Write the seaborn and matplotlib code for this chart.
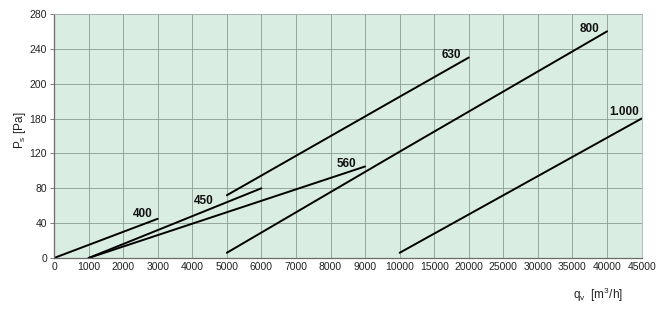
import numpy as np
import pandas as pd
import matplotlib
matplotlib.use("Agg")
import matplotlib.pyplot as plt
import seaborn as sns

# ---- data ----
q_400 = [0, 3000]
p_400 = [0, 45]
q_450 = [1000, 6000]
p_450 = [0, 80]
q_560 = [1000, 9000]
p_560 = [0, 105]
q_630 = [5000, 10000, 20000]
p_630 = [72, 185, 230]
q_800 = [5000, 10000, 40000]
p_800 = [6, 122, 260]
q_1000 = [10000, 45000]
p_1000 = [6, 160]

series_names = ["400", "450", "560", "630", "800", "1.000"]
x_ticks = [0, 1000, 2000, 3000, 4000, 5000, 6000, 7000, 8000, 9000, 10000,
           15000, 20000, 25000, 30000, 35000, 40000, 45000]
y_ticks = [0, 40, 80, 120, 160, 200, 240, 280]
y_tick_labels = ["0", "40", "80", "120", "180", "200", "240", "280"]

frames = []
for name, qs, ps in zip(series_names,
                        [q_400, q_450, q_560, q_630, q_800, q_1000],
                        [p_400, p_450, p_560, p_630, p_800, p_1000]):
    frames.append(pd.DataFrame({"q": qs, "p": ps, "size": name}))
df = pd.concat(frames, ignore_index=True)

sns.set_theme(style="white")
plt.rcParams["font.family"] = ["Liberation Sans", "DejaVu Sans"]

fig = plt.figure(figsize=(6.61, 3.09), dpi=100)
ax = fig.add_axes([0.0817, 0.165, 0.889, 0.790])


def fwd(q):
    q = np.asarray(q, dtype=float)
    return np.where(q <= 10000, q / 1000.0, 10 + (q - 10000) / 5000.0)


def inv(c):
    c = np.asarray(c, dtype=float)
    return np.where(c <= 10, c * 1000.0, 10000 + (c - 10) * 5000.0)


ax.set_xscale("function", functions=(fwd, inv))
ax.set_facecolor("#daede3")

for name in series_names:
    sub = df[df["size"] == name]
    sns.lineplot(data=sub, x="q", y="p", ax=ax, color="black", lw=1.4,
                 sort=False, legend=False)

ax.set_xlim(0, 45000)
ax.set_ylim(0, 280)
ax.set_xticks(x_ticks)
ax.set_xticklabels([str(t) for t in x_ticks], fontsize=7.5, color="#222222")
ax.set_yticks(y_ticks)
ax.set_yticklabels(y_tick_labels, fontsize=7.5, color="#222222")
ax.grid(True, color="#8a9b92", lw=0.6)
ax.set_axisbelow(True)
for side in ["top", "right"]:
    ax.spines[side].set_color("#a9b5ae")
    ax.spines[side].set_linewidth(0.6)
for side in ["left", "bottom"]:
    ax.spines[side].set_color("#6b6b6b")
    ax.spines[side].set_linewidth(0.9)
ax.tick_params(axis="y", left=True, length=3, width=0.6, color="#6b6b6b", pad=2)
ax.tick_params(axis="x", bottom=False, length=0, pad=3)

ax.set_xlabel("")
ax.set_ylabel("")

# curve labels
label_pos = {"400": (2580, 50), "450": (4330, 65), "560": (8450, 108),
             "630": (17500, 233), "800": (37500, 263), "1.000": (42400, 167)}
for name in series_names:
    x, y = label_pos[name]
    ax.text(x, y, name, fontsize=8.5, fontweight="bold", ha="center",
            va="center", color="#111111")

fig.text(0.030, 0.58, r"P$_\mathregular{s}$ [Pa]", rotation=90, fontsize=8.5,
         ha="center", va="center", color="#222222")
fig.text(0.905, 0.045, r"q$_\mathregular{v}$  [m$^\mathregular{3}$/h]",
         fontsize=8.5, ha="center", va="center", color="#222222")

fig.savefig("out.png", dpi=100)
